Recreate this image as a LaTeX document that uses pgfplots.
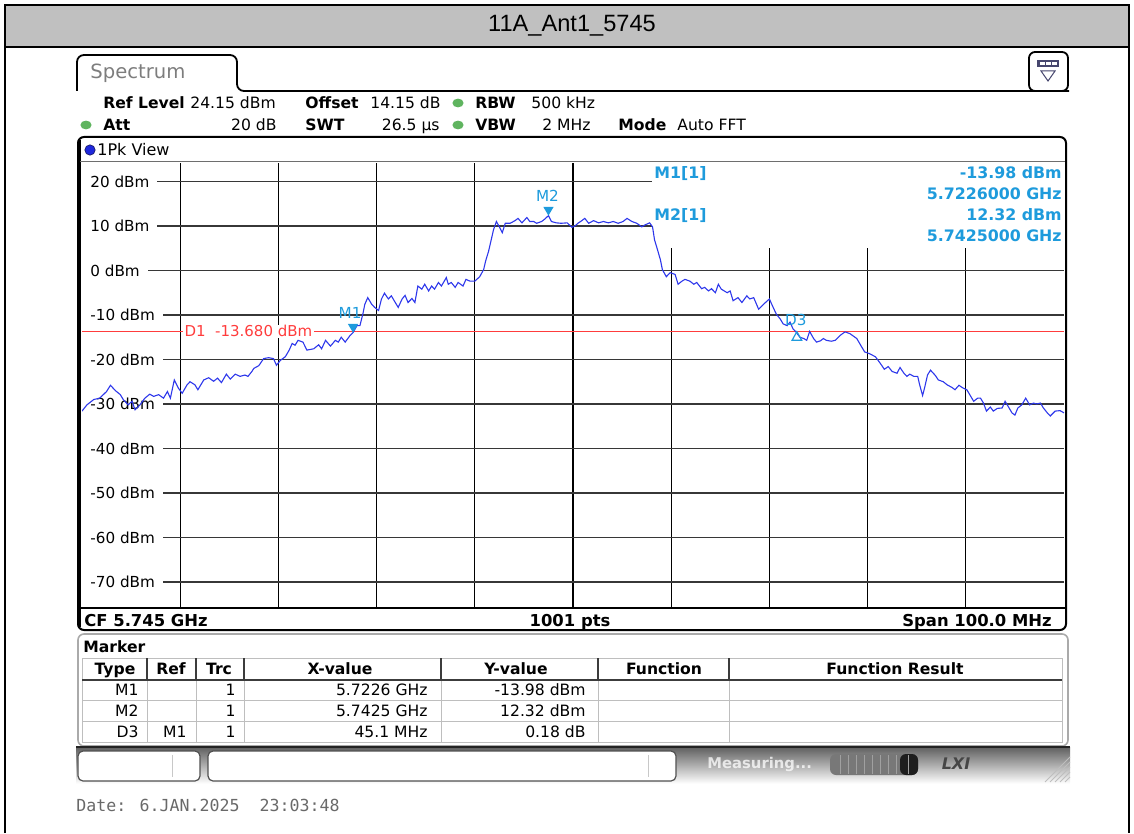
\documentclass[border=0pt]{standalone}
\usepackage{pgfplots}
\pgfplotsset{compat=1.18}
\usepackage{fontspec}
\setmainfont{DejaVu Sans}
\newfontfamily\titlefont{Liberation Sans}
\newfontfamily\datefont{DejaVu Sans Mono}
\definecolor{trace}{RGB}{45,55,235}
\definecolor{mk}{RGB}{30,155,220}
\definecolor{dline}{RGB}{255,60,60}
\definecolor{titlegray}{RGB}{192,192,192}
\definecolor{hgrid}{RGB}{55,55,55}
\definecolor{ledgreen}{RGB}{95,180,95}
\definecolor{tabgray}{RGB}{125,125,125}
\definecolor{iconblue}{RGB}{70,70,110}
\definecolor{sepgray}{RGB}{110,110,110}
\definecolor{dotblue}{RGB}{30,40,220}
\definecolor{dotedge}{RGB}{20,20,90}
\definecolor{panelgray}{RGB}{170,170,170}
\definecolor{tblgray}{RGB}{190,190,190}
\definecolor{tbldark}{RGB}{60,60,60}
\definecolor{sbtop}{RGB}{95,95,95}
\definecolor{sbbot}{RGB}{252,252,252}
\definecolor{sbline}{RGB}{35,35,35}
\definecolor{boxedge}{RGB}{80,80,80}
\definecolor{divgray}{RGB}{200,200,200}
\definecolor{progray}{RGB}{120,120,120}
\definecolor{prodark}{RGB}{30,30,30}
\definecolor{prosep}{RGB}{160,160,160}
\definecolor{lxigray}{RGB}{70,70,70}
\definecolor{hatch}{RGB}{190,190,190}
\definecolor{dategray}{RGB}{105,105,105}
\newcommand{\fs}[1]{\fontsize{#1}{#1}\selectfont}
\begin{document}
\begin{tikzpicture}
\begin{scope}[x=0.5pt,y=-0.5pt]
\path[use as bounding box] (0,0) rectangle (1134,833);
\end{scope}
\begin{axis}[
  at={(41pt,-304pt)}, anchor=south west,
  scale only axis, width=491pt, height=222.5pt,
  xmin=5695, xmax=5795, ymin=-75.85, ymax=24.15,
  xtick=\empty, ytick=\empty,
  axis line style={draw=none},
]
% grid
\draw[black,line width=0.6pt] (axis cs:5705,-75.85) -- (axis cs:5705,24.15);
\draw[black,line width=0.6pt] (axis cs:5715,-75.85) -- (axis cs:5715,24.15);
\draw[black,line width=0.6pt] (axis cs:5725,-75.85) -- (axis cs:5725,24.15);
\draw[black,line width=0.6pt] (axis cs:5735,-75.85) -- (axis cs:5735,24.15);
\draw[black,line width=0.6pt] (axis cs:5745,-75.85) -- (axis cs:5745,24.15);
\draw[black,line width=0.6pt] (axis cs:5755,-75.85) -- (axis cs:5755,24.15);
\draw[black,line width=0.6pt] (axis cs:5765,-75.85) -- (axis cs:5765,24.15);
\draw[black,line width=0.6pt] (axis cs:5775,-75.85) -- (axis cs:5775,24.15);
\draw[black,line width=0.6pt] (axis cs:5785,-75.85) -- (axis cs:5785,24.15);
\draw[hgrid,line width=0.8pt] (axis cs:5695,20) -- (axis cs:5795,20);
\draw[hgrid,line width=0.8pt] (axis cs:5695,10) -- (axis cs:5795,10);
\draw[hgrid,line width=0.8pt] (axis cs:5695,0) -- (axis cs:5795,0);
\draw[hgrid,line width=0.8pt] (axis cs:5695,-10) -- (axis cs:5795,-10);
\draw[hgrid,line width=0.8pt] (axis cs:5695,-20) -- (axis cs:5795,-20);
\draw[hgrid,line width=0.8pt] (axis cs:5695,-30) -- (axis cs:5795,-30);
\draw[hgrid,line width=0.8pt] (axis cs:5695,-40) -- (axis cs:5795,-40);
\draw[hgrid,line width=0.8pt] (axis cs:5695,-50) -- (axis cs:5795,-50);
\draw[hgrid,line width=0.8pt] (axis cs:5695,-60) -- (axis cs:5795,-60);
\draw[hgrid,line width=0.8pt] (axis cs:5695,-70) -- (axis cs:5795,-70);
% marker info box
\fill[white] (axis cs:5753,24.15) rectangle (axis cs:5795,5.1);
% level labels
\node[anchor=west,fill=white,inner xsep=4pt,inner ysep=0.5pt,font={\fs{7.6}}] at (axis cs:5695,20) {20 dBm};
\node[anchor=west,fill=white,inner xsep=4pt,inner ysep=0.5pt,font={\fs{7.6}}] at (axis cs:5695,10) {10 dBm};
\node[anchor=west,fill=white,inner xsep=4pt,inner ysep=0.5pt,font={\fs{7.6}}] at (axis cs:5695,0) {0 dBm};
\node[anchor=west,fill=white,inner xsep=4pt,inner ysep=0.5pt,font={\fs{7.6}}] at (axis cs:5695,-10) {-10 dBm};
\node[anchor=west,fill=white,inner xsep=4pt,inner ysep=0.5pt,font={\fs{7.6}}] at (axis cs:5695,-20) {-20 dBm};
\node[anchor=west,fill=white,inner xsep=4pt,inner ysep=0.5pt,font={\fs{7.6}}] at (axis cs:5695,-30) {-30 dBm};
\node[anchor=west,fill=white,inner xsep=4pt,inner ysep=0.5pt,font={\fs{7.6}}] at (axis cs:5695,-40) {-40 dBm};
\node[anchor=west,fill=white,inner xsep=4pt,inner ysep=0.5pt,font={\fs{7.6}}] at (axis cs:5695,-50) {-50 dBm};
\node[anchor=west,fill=white,inner xsep=4pt,inner ysep=0.5pt,font={\fs{7.6}}] at (axis cs:5695,-60) {-60 dBm};
\node[anchor=west,fill=white,inner xsep=4pt,inner ysep=0.5pt,font={\fs{7.6}}] at (axis cs:5695,-70) {-70 dBm};
% display line D1
\draw[dline,line width=0.6pt] (axis cs:5695,-13.68) -- (axis cs:5795,-13.68);
\node[anchor=west,fill=white,inner xsep=1pt,inner ysep=0.5pt,text=dline,font={\fs{7.5}}] at (axis cs:5705.2,-13.68) {D1\ \ -13.680 dBm};
% trace
\addplot[trace,line width=0.55pt] coordinates {
(5695.0,-31.6) (5695.5,-30.2) (5696.2,-29.0) (5696.8,-28.7) (5697.5,-27.2) (5697.9,-25.8) (5698.4,-27.0) (5698.9,-27.9) (5699.2,-29.0) (5699.7,-30.2)
(5700.1,-29.4) (5700.4,-31.3) (5700.9,-30.2) (5701.4,-28.7) (5701.9,-27.8) (5702.3,-28.3) (5702.8,-27.9) (5703.3,-28.7) (5703.7,-27.2) (5704.0,-28.7)
(5704.4,-24.6) (5704.8,-26.4) (5705.2,-27.6) (5705.7,-25.7) (5706.0,-25.0) (5706.5,-25.7) (5706.8,-26.8) (5707.4,-24.6) (5707.9,-24.1) (5708.4,-24.9)
(5708.8,-24.2) (5709.2,-25.2) (5709.7,-23.3) (5710.1,-24.4) (5710.6,-23.3) (5711.1,-23.8) (5711.6,-23.5) (5711.9,-23.8) (5712.3,-22.7) (5712.5,-22.0)
(5713.0,-21.4) (5713.5,-19.8) (5714.0,-19.6) (5714.5,-19.8) (5714.8,-21.3) (5715.2,-20.2) (5715.7,-19.4) (5716.1,-17.9) (5716.4,-16.4) (5716.7,-16.8)
(5717.0,-15.7) (5717.5,-16.1) (5717.9,-17.9) (5718.6,-17.6) (5719.1,-16.7) (5719.4,-17.6) (5719.8,-15.7) (5720.3,-17.0) (5720.8,-15.7) (5721.1,-16.1)
(5721.4,-15.0) (5721.8,-16.1) (5722.3,-14.6) (5722.6,-13.98) (5723.0,-12.4) (5723.3,-12.4) (5723.6,-9.8) (5723.8,-7.6) (5724.1,-6.1) (5724.5,-7.6)
(5724.8,-8.3) (5725.2,-9.0) (5725.5,-6.4) (5725.8,-5.1) (5726.2,-6.4) (5726.5,-5.7) (5726.9,-7.2) (5727.2,-8.3) (5727.6,-6.4) (5727.9,-5.6)
(5728.2,-7.2) (5728.6,-6.3) (5728.9,-7.2) (5729.2,-3.5) (5729.6,-4.2) (5729.9,-3.1) (5730.3,-4.6) (5730.6,-3.5) (5730.9,-4.2) (5731.3,-2.7)
(5731.6,-3.5) (5732.1,-1.6) (5732.3,-3.1) (5732.6,-2.7) (5733.0,-3.8) (5733.3,-2.7) (5733.8,-3.5) (5734.1,-2.0) (5734.5,-2.4) (5735.0,-2.4)
(5735.5,-1.4) (5735.9,0.2) (5736.1,2.1) (5736.4,4.3) (5736.6,6.2) (5736.9,9.1) (5737.2,11.0) (5737.5,9.8) (5737.8,8.5) (5738.1,10.6)
(5738.6,10.6) (5739.1,11.2) (5739.4,11.7) (5739.8,10.7) (5740.3,11.9) (5740.6,11.0) (5741.0,11.0) (5741.3,10.6) (5741.8,11.0) (5742.1,11.5)
(5742.5,12.32) (5742.8,11.0) (5743.3,10.7) (5743.8,10.6) (5744.4,10.7) (5744.9,9.7) (5745.2,10.0) (5745.5,10.6) (5745.9,11.2) (5746.2,11.7)
(5746.6,10.6) (5747.1,11.2) (5747.6,10.7) (5748.1,11.0) (5748.6,10.7) (5749.1,11.0) (5749.6,10.6) (5750.1,11.0) (5750.5,11.7) (5751.0,11.0)
(5751.5,10.6) (5752.0,9.8) (5752.3,10.2) (5752.8,10.7) (5753.1,9.8) (5753.3,6.9) (5753.6,4.7) (5753.9,2.4) (5754.1,0.2) (5754.5,-1.4)
(5754.9,-0.5) (5755.4,-0.9) (5755.7,-3.1) (5756.1,-2.4) (5756.4,-2.0) (5756.9,-2.4) (5757.3,-3.1) (5757.6,-2.7) (5758.1,-4.1) (5758.4,-3.8)
(5758.8,-4.6) (5759.1,-4.1) (5759.5,-5.0) (5759.8,-3.1) (5760.1,-4.2) (5760.7,-5.0) (5761.0,-4.6) (5761.3,-6.8) (5761.8,-6.1) (5762.2,-7.2)
(5762.7,-5.7) (5763.0,-6.4) (5763.4,-6.1) (5763.9,-8.7) (5764.4,-7.6) (5765.0,-6.4) (5765.3,-7.9) (5765.7,-9.8) (5766.1,-10.9) (5766.4,-12.0)
(5766.8,-12.4) (5767.1,-11.6) (5767.4,-13.1) (5767.7,-13.8) (5768.1,-15.0) (5768.5,-15.3) (5768.8,-15.7) (5769.1,-13.7) (5769.5,-15.3) (5769.8,-16.1)
(5770.2,-15.8) (5770.5,-15.3) (5770.8,-15.7) (5771.3,-15.9) (5771.7,-15.7) (5772.2,-14.6) (5772.7,-13.8) (5773.2,-14.2) (5773.9,-15.3) (5774.4,-17.2)
(5774.7,-18.3) (5775.2,-18.7) (5775.8,-19.4) (5776.3,-20.9) (5776.7,-22.2) (5777.1,-21.6) (5777.5,-22.7) (5778.0,-23.1) (5778.3,-21.8) (5778.7,-23.1)
(5779.0,-23.8) (5779.3,-23.3) (5779.7,-23.8) (5780.1,-23.8) (5780.3,-25.7) (5780.6,-28.1) (5780.8,-26.4) (5781.1,-23.5) (5781.4,-22.4) (5781.9,-23.6)
(5782.2,-24.6) (5782.7,-25.0) (5783.1,-25.7) (5783.6,-26.3) (5783.9,-26.8) (5784.3,-25.8) (5784.7,-26.4) (5785.1,-26.8) (5785.4,-27.9) (5785.8,-29.4)
(5786.2,-28.7) (5786.5,-28.7) (5786.8,-29.8) (5787.1,-31.6) (5787.5,-30.7) (5787.8,-31.6) (5788.2,-31.0) (5788.7,-30.9) (5789.0,-29.4) (5789.3,-30.5)
(5789.7,-32.0) (5790.0,-32.5) (5790.3,-30.9) (5790.7,-30.2) (5791.1,-28.7) (5791.5,-30.2) (5791.9,-29.8) (5792.2,-30.0) (5792.6,-29.8) (5792.9,-30.9)
(5793.3,-32.0) (5793.6,-32.7) (5794.1,-31.6) (5794.6,-31.5) (5795.0,-32.0)
};
% markers
\fill[mk] (axis cs:5722.6,-13.98) -- ++(-2.6pt,4.4pt) -- ++(5.2pt,0pt) -- cycle;
\node[text=mk,font={\fs{7.6}}] at (axis cs:5722.3,-9.6) {M1};
\fill[mk] (axis cs:5742.5,12.32) -- ++(-2.6pt,4.4pt) -- ++(5.2pt,0pt) -- cycle;
\node[text=mk,font={\fs{7.6}}] at (axis cs:5742.4,16.8) {M2};
\draw[mk,line width=0.6pt] (axis cs:5767.8,-13.75) -- ++(-2.4pt,-4.3pt) -- ++(4.8pt,0pt) -- cycle;
\node[text=mk,font={\fs{7.6}}] at (axis cs:5767.7,-11.2) {D3};
\end{axis}
\begin{scope}[x=0.5pt,y=-0.5pt,every node/.style={inner sep=0pt}]
% title bar and frame
\fill[titlegray] (5,5) rectangle (1129,47);
\draw[line width=1pt] (5,833) -- (5,5) -- (1129,5) -- (1129,833);
\draw[line width=1pt] (5,47) -- (1129,47);
\node at (572,26) {\titlefont\fs{11.8}11A\_Ant1\_5745};
% tab
\draw[line width=0.9pt,rounded corners=3.5pt] (77,91) -- (77,55) -- (237,55) -- (237,91) -- (1069,91);
\node[anchor=base west,text=tabgray] at (90,79) {\fs{9.8}Spectrum};
% icon
\draw[line width=0.9pt,rounded corners=3pt,fill=white] (1029,52) rectangle (1068,91);
\fill[iconblue] (1037,60) rectangle (1059,67);
\fill[white] (1040,62) rectangle (1045,65);
\fill[white] (1046,62) rectangle (1051,65);
\fill[white] (1052,62) rectangle (1057,65);
\draw[iconblue,line width=0.5pt] (1041,71) -- (1055,71) -- (1048,81) -- cycle;
% header
\node[anchor=base west] at (103,108.5) {\fs{7.8}\bfseries Ref Level};
\node[anchor=base west] at (190,108.5) {\fs{7.8}24.15 dBm};
\node[anchor=base west] at (305,108.5) {\fs{7.8}\bfseries Offset};
\node[anchor=base west] at (370,108.5) {\fs{7.8}14.15 dB};
\fill[ledgreen] (458,103) ellipse (2.8pt and 2.2pt);
\node[anchor=base west] at (475,108.5) {\fs{7.8}\bfseries RBW};
\node[anchor=base west] at (531,108.5) {\fs{7.8}500 kHz};
\fill[ledgreen] (86,125) ellipse (2.8pt and 2.2pt);
\node[anchor=base west] at (103,130.5) {\fs{7.8}\bfseries Att};
\node[anchor=base east] at (277,130.5) {\fs{7.8}20 dB};
\node[anchor=base west] at (305,130.5) {\fs{7.8}\bfseries SWT};
\node[anchor=base east] at (440,130.5) {\fs{7.8}26.5 µs};
\fill[ledgreen] (458,125) ellipse (2.8pt and 2.2pt);
\node[anchor=base west] at (475,130.5) {\fs{7.8}\bfseries VBW};
\node[anchor=base east] at (591,130.5) {\fs{7.8}2 MHz};
\node[anchor=base west] at (618,130.5) {\fs{7.8}\bfseries Mode};
\node[anchor=base west] at (677,130.5) {\fs{7.8}Auto FFT};
% 1Pk view panel
\draw[line width=1pt,rounded corners=3pt] (78,137) rectangle (1066,630);
\draw[line width=1.2pt] (79.5,140) -- (79.5,627);
\draw[sepgray,line width=0.5pt] (80,162) -- (1065,162);
\fill[dotblue] (90,150) circle (2.6pt);
\draw[dotedge,line width=0.3pt] (90,150) circle (2.6pt);
\node[anchor=base west] at (97,155.5) {\fs{8}1Pk View};
\draw[line width=1.1pt] (78,608) -- (1066,608);
\node[anchor=base west] at (84,626) {\fs{8.2}\bfseries CF 5.745 GHz};
\node[anchor=base] at (570,626) {\fs{8.2}\bfseries 1001 pts};
\node[anchor=base east] at (1052,626) {\fs{8.2}\bfseries Span 100.0 MHz};
% marker info
\node[anchor=base west,text=mk] at (654,178.8) {\fs{7.9}\bfseries M1[1]};
\node[anchor=base east,text=mk] at (1062,178.8) {\fs{7.9}\bfseries -13.98 dBm};
\node[anchor=base east,text=mk] at (1062,199.8) {\fs{7.9}\bfseries 5.7226000 GHz};
\node[anchor=base west,text=mk] at (654,220.8) {\fs{7.9}\bfseries M2[1]};
\node[anchor=base east,text=mk] at (1062,220.8) {\fs{7.9}\bfseries 12.32 dBm};
\node[anchor=base east,text=mk] at (1062,241.8) {\fs{7.9}\bfseries 5.7425000 GHz};
% marker table panel
\draw[panelgray,line width=0.8pt,rounded corners=3pt] (78,634) rectangle (1068,746);
\node[anchor=base west] at (83,652.5) {\fs{7.8}\bfseries Marker};
\draw[tblgray,line width=0.5pt] (82,658) rectangle (1062,742);
\draw[tblgray,line width=0.5pt] (82,700) -- (1062,700);
\draw[tblgray,line width=0.5pt] (82,721) -- (1062,721);
\foreach \cx in {147,196,244,441,598,729} {
  \draw[tblgray,line width=0.5pt] (\cx,680) -- (\cx,742);
  \draw[tbldark,line width=0.6pt] (\cx,658) -- (\cx,680);
}
\draw[tbldark,line width=0.9pt] (82,680) -- (1062,680);
\node[anchor=base] at (115,674.5) {\fs{7.8}\bfseries Type};
\node[anchor=base] at (171,674.5) {\fs{7.8}\bfseries Ref};
\node[anchor=base] at (219,674.5) {\fs{7.8}\bfseries Trc};
\node[anchor=base] at (340,674.5) {\fs{7.8}\bfseries X-value};
\node[anchor=base] at (516,674.5) {\fs{7.8}\bfseries Y-value};
\node[anchor=base] at (664,674.5) {\fs{7.8}\bfseries Function};
\node[anchor=base] at (895,674.5) {\fs{7.8}\bfseries Function Result};
\node[anchor=base east] at (139,695.7) {\fs{7.8}M1};
\node[anchor=base east] at (236,695.7) {\fs{7.8}1};
\node[anchor=base east] at (428,695.7) {\fs{7.8}5.7226 GHz};
\node[anchor=base east] at (586,695.7) {\fs{7.8}-13.98 dBm};
\node[anchor=base east] at (139,716.7) {\fs{7.8}M2};
\node[anchor=base east] at (236,716.7) {\fs{7.8}1};
\node[anchor=base east] at (428,716.7) {\fs{7.8}5.7425 GHz};
\node[anchor=base east] at (586,716.7) {\fs{7.8}12.32 dBm};
\node[anchor=base east] at (139,737.7) {\fs{7.8}D3};
\node[anchor=base east] at (187,737.7) {\fs{7.8}M1};
\node[anchor=base east] at (236,737.7) {\fs{7.8}1};
\node[anchor=base east] at (428,737.7) {\fs{7.8}45.1 MHz};
\node[anchor=base east] at (586,737.7) {\fs{7.8}0.18 dB};
% status bar
\shade[top color=sbtop,bottom color=sbbot] (76,747) rectangle (1070,783);
\draw[sbline,line width=1.2pt] (76,747) -- (1070,747);
\filldraw[fill=white,draw=boxedge,line width=0.6pt,rounded corners=2.5pt] (78,751) rectangle (200,781);
\filldraw[fill=white,draw=boxedge,line width=0.6pt,rounded corners=2.5pt] (208,751) rectangle (676,781);
\draw[divgray,line width=0.5pt] (172,755) -- (172,777);
\draw[divgray,line width=0.5pt] (648,755) -- (648,777);
\node[anchor=west,text=white,opacity=0.75] at (707,764) {\fs{7.4}\bfseries Measuring...};
\fill[progray,rounded corners=3pt] (830,754) rectangle (918,775);
\fill[prodark,rounded corners=3pt] (900,754) rectangle (918,775);
\foreach \sx in {840,848,856,864,872,880,888,896,908} {
  \draw[prosep,line width=0.4pt] (\sx,755) -- (\sx,774);
}
\node[text=lxigray] at (956,764) {\fs{8}\bfseries\itshape LXI};
\foreach \hx in {0,5,10,15,20} {
  \draw[hatch,line width=0.4pt] (1045+\hx,782) -- (1070,757+\hx);
}
% date
\node[anchor=base west,text=dategray] at (76,811) {\datefont\fs{8.3}Date: 6.JAN.2025\ \ 23:03:48};
\end{scope}
\end{tikzpicture}
\end{document}
